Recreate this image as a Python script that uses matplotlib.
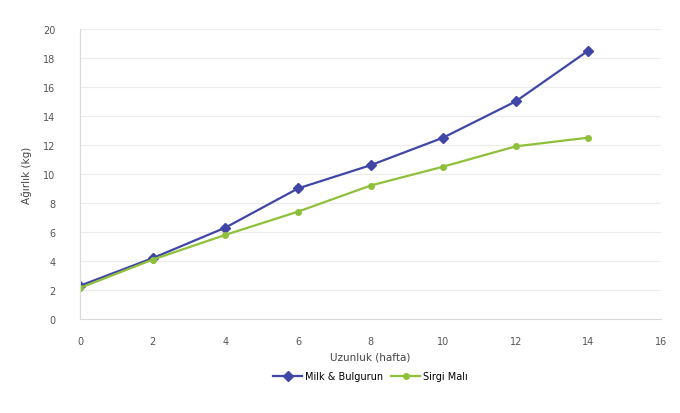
import matplotlib
matplotlib.use("Agg")
import matplotlib.pyplot as plt

x_vals = [0, 2, 4, 6, 8, 10, 12, 14]
series_a = [2.3, 4.2, 6.3, 9.0, 10.6, 12.5, 15.0, 18.5]
series_b = [2.15, 4.1, 5.8, 7.4, 9.2, 10.5, 11.9, 12.5]
name_a = "Milk & Bulgurun"
name_b = "Sirgi Malı"
x_ticks = [0, 2, 4, 6, 8, 10, 12, 14, 16]
y_ticks = [0, 2, 4, 6, 8, 10, 12, 14, 16, 18, 20]
x_label = "Uzunluk (hafta)"
y_label = "Ağırlık (kg)"

fig = plt.figure(figsize=(6.8, 4.14), dpi=100)
ax = fig.add_axes([0.118, 0.227, 0.854, 0.701])
ax.plot(x_vals, series_a, color="#3f46a6", marker="D", markersize=5, linewidth=1.6, label=name_a)
ax.plot(x_vals, series_b, color="#8fc03a", marker="o", markersize=4, linewidth=1.6, label=name_b)
ax.set_xlim(0, 16)
ax.set_ylim(0, 20)
ax.set_xticks(x_ticks)
ax.set_yticks(y_ticks)
ax.tick_params(axis="x", labelsize=7, colors="#555555", length=0, pad=12)
ax.tick_params(axis="y", labelsize=7, colors="#555555", length=0, pad=18)
ax.grid(axis="y", color="#ececec", linewidth=0.8)
for s in ["top", "right"]:
    ax.spines[s].set_visible(False)
ax.spines["left"].set_color("#d9d9d9")
ax.spines["bottom"].set_color("#d9d9d9")
ax.set_xlabel(x_label, fontsize=7.5, color="#444444", labelpad=4)
ax.set_ylabel(y_label, fontsize=7.5, color="#444444", labelpad=8)
ax.legend(loc="upper center", bbox_to_anchor=(0.5, -0.15), ncol=2, frameon=False,
          fontsize=7, handlelength=3, columnspacing=0.8, handletextpad=0.3)
fig.savefig("out.png", dpi=100)
